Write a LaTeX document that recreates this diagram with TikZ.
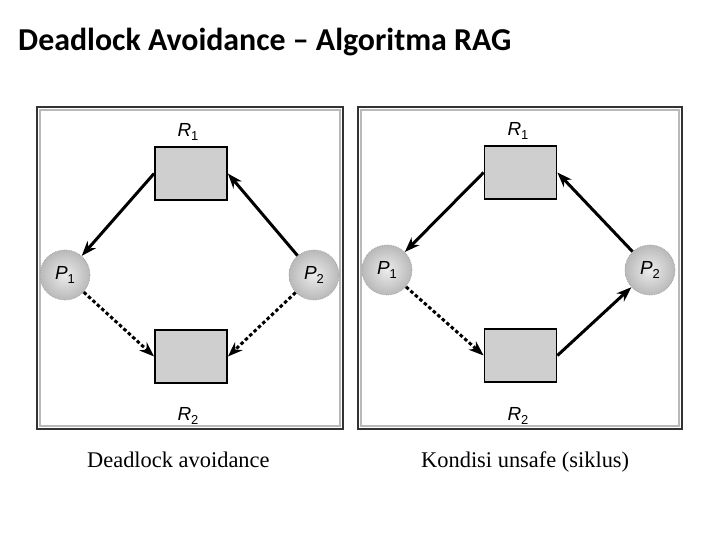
\documentclass[tikz,border=0pt]{standalone}
\usepackage{fontspec}
\setmainfont{Liberation Serif}
\setsansfont{Liberation Sans}
\newfontfamily\titlefont{Carlito}
\usetikzlibrary{arrows.meta}
\newcommand{\lbl}[2]{{\sffamily\fontsize{19}{19}\selectfont\itshape #1\raisebox{-0.45ex}{\upshape\fontsize{13}{13}\selectfont #2}}}
\tikzset{
  panel/.style={draw=black!80, line width=2.4bp},
  panelin/.style={draw=gray!55, line width=1.2bp},
  res/.style={draw=black, line width=1.8bp, fill=gray!38, minimum width=72bp, minimum height=53bp, inner sep=0pt},
  proc/.style={circle, draw=gray!70, densely dotted, line width=0.8bp, inner color=gray!15, outer color=gray!55, minimum size=50bp, inner sep=0pt},
  conn/.style={line width=3bp, -{Stealth[length=15bp,width=11bp]}},
  dconn/.style={conn, dash pattern=on 3.5bp off 2.5bp},
  lab/.style={inner sep=0pt},
  captext/.style={inner sep=0pt}
}
\begin{document}
\begin{tikzpicture}[x=1bp, y=-1bp]
\useasboundingbox (0,0) rectangle (720,540);
\node[anchor=west, inner sep=0pt, font=\titlefont\bfseries\fontsize{32}{32}\selectfont] (title) at (18,42) {Deadlock Avoidance – Algoritma RAG};
% left panel
\draw[panel] (37,107) rectangle (343,429);
\draw[panelin] (40,110) rectangle (340,426);
\node[res] (lR1) at (191,173.5) {};
\node[res] (lR2) at (191,356.5) {};
\node[proc] (lP1) at (65,275) {\lbl{P}{1}};
\node[proc] (lP2) at (314,275) {\lbl{P}{2}};
\node[lab] (lR1l) at (188,132) {\lbl{R}{1}};
\node[lab] (lR2l) at (188,416) {\lbl{R}{2}};
\draw[conn] (lR1.west) -- (lP1);
\draw[conn] (lP2) -- (lR1.east);
\draw[dconn] (lP1) -- (lR2.west);
\draw[dconn] (lP2) -- (lR2.east);
% right panel
\draw[panel] (358,107) rectangle (682,429);
\draw[panelin] (361,110) rectangle (679,426);
\node[res] (rR1) at (520.5,172.5) {};
\node[res] (rR2) at (520.5,355.5) {};
\node[proc] (rP1) at (387,270) {\lbl{P}{1}};
\node[proc] (rP2) at (650,270) {\lbl{P}{2}};
\node[lab] (rR1l) at (518,131) {\lbl{R}{1}};
\node[lab] (rR2l) at (518,416) {\lbl{R}{2}};
\draw[conn] (rR1.west) -- (rP1);
\draw[conn] (rP2) -- (rR1.east);
\draw[dconn] (rP1) -- (rR2.west);
\draw[conn] (rR2.east) -- (rP2);
% captions
\node[captext, anchor=base west, font=\fontsize{22.5}{22.5}\selectfont] (c1) at (87,467) {Deadlock avoidance};
\node[captext, anchor=base west, font=\fontsize{22.5}{22.5}\selectfont] (c2) at (421,467) {Kondisi unsafe (siklus)};
\end{tikzpicture}
\end{document}
